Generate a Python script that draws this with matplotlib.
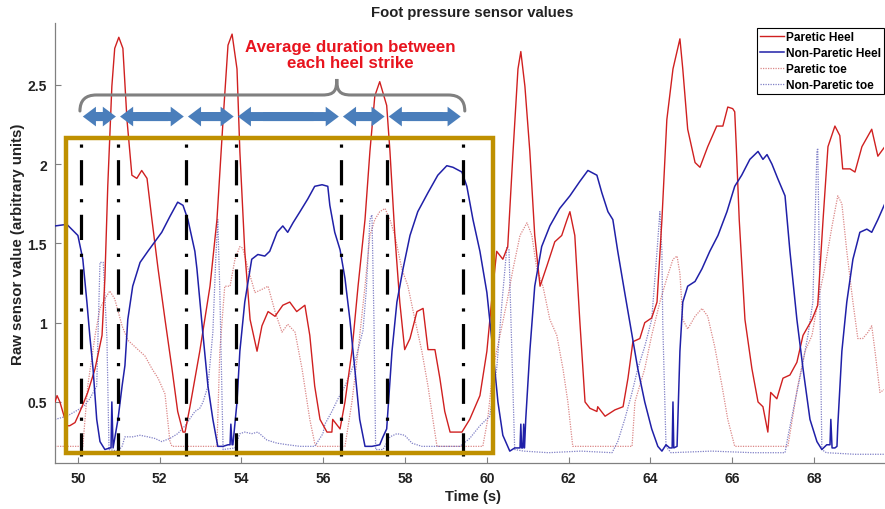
import matplotlib
matplotlib.use("Agg")
import matplotlib.pyplot as plt
from matplotlib.patches import Rectangle, FancyArrowPatch, PathPatch
from matplotlib.path import Path

plt.rcParams['font.family'] = ['Liberation Sans', 'DejaVu Sans']
plt.rcParams['font.weight'] = 'bold'

# ---------------- data ----------------
ph_t = [49.44, 49.49, 49.56, 49.73, 49.80, 49.93, 50.00, 50.10, 50.24, 50.42, 50.59, 50.66, 50.73, 50.83,
        50.90, 51.00, 51.10, 51.20, 51.32, 51.44, 51.56, 51.69, 51.81, 51.96, 52.13, 52.30, 52.44, 52.57,
        52.62, 52.74, 52.98, 53.23, 53.40, 53.55, 53.67, 53.77, 53.89, 53.96, 54.08, 54.21, 54.38, 54.50,
        54.65, 54.82, 55.01, 55.18, 55.35, 55.55, 55.67, 55.79, 55.92, 56.09, 56.21, 56.23, 56.41, 56.53,
        56.70, 56.85, 57.02, 57.14, 57.26, 57.38, 57.55, 57.63, 57.75, 57.87, 57.99, 58.12, 58.29, 58.44,
        58.56, 58.73, 58.85, 58.97, 59.10, 59.39, 59.58, 59.83, 60.00, 60.15, 60.24, 60.39, 60.51, 60.64,
        60.76, 60.83, 60.93, 61.05, 61.17, 61.30, 61.47, 61.66, 61.83, 61.96, 62.03, 62.15, 62.27, 62.40,
        62.52, 62.69, 62.71, 62.89, 63.13, 63.33, 63.45, 63.57, 63.74, 63.86, 64.03, 64.16, 64.28, 64.40,
        64.55, 64.72, 64.79, 64.91, 65.09, 65.21, 65.40, 65.62, 65.77, 65.89, 66.01, 66.06, 66.10, 66.17,
        66.31, 66.48, 66.63, 66.75, 66.87, 66.94, 67.09, 67.24, 67.41, 67.58, 67.73, 67.95, 68.09, 68.22,
        68.34, 68.51, 68.63, 68.70, 68.88, 69.00, 69.17, 69.41, 69.56, 69.73]
ph_v = [0.50, 0.54, 0.50, 0.35, 0.35, 0.37, 0.41, 0.47, 0.56, 0.71, 0.92, 1.28, 1.86, 2.49,
        2.73, 2.80, 2.73, 2.28, 1.93, 1.91, 1.96, 1.91, 1.65, 1.34, 1.02, 0.71, 0.44, 0.31,
        0.31, 0.47, 0.82, 1.23, 1.65, 2.28, 2.75, 2.82, 2.60, 2.08, 1.45, 1.02, 0.82, 0.98,
        1.07, 1.04, 1.11, 1.13, 1.07, 1.11, 0.92, 0.60, 0.39, 0.31, 0.31, 0.39, 0.33, 0.50,
        0.82, 1.23, 1.65, 2.08, 2.43, 2.52, 2.37, 2.08, 1.55, 1.13, 0.83, 0.90, 1.07, 1.09,
        0.83, 0.83, 0.65, 0.44, 0.31, 0.31, 0.39, 0.54, 0.82, 1.23, 1.45, 1.40, 1.48, 2.08,
        2.60, 2.71, 2.49, 2.08, 1.55, 1.23, 1.36, 1.51, 1.55, 1.65, 1.70, 1.55, 1.02, 0.50,
        0.46, 0.44, 0.47, 0.41, 0.45, 0.47, 0.65, 0.88, 0.90, 1.00, 1.03, 1.13, 1.65, 2.28,
        2.60, 2.79, 2.60, 2.22, 2.01, 1.98, 2.11, 2.24, 2.24, 2.36, 2.35, 2.33, 2.10, 1.65,
        1.02, 0.71, 0.50, 0.47, 0.31, 0.56, 0.52, 0.65, 0.67, 0.75, 0.92, 1.02, 1.11, 1.65,
        2.11, 2.24, 2.18, 1.97, 1.97, 1.95, 2.11, 2.22, 2.05, 2.11]

nh_t = [49.44, 49.73, 50.00, 50.12, 50.22, 50.29, 50.37, 50.46, 50.54, 50.66, 50.78, 50.81, 50.83, 50.86,
        50.98, 51.08, 51.15, 51.22, 51.34, 51.52, 51.71, 51.88, 52.05, 52.25, 52.44, 52.57, 52.69, 52.86,
        52.91, 53.06, 53.18, 53.30, 53.42, 53.55, 53.67, 53.72, 53.74, 53.77, 53.79, 53.89, 53.96, 54.08,
        54.25, 54.40, 54.57, 54.69, 54.87, 55.01, 55.13, 55.26, 55.43, 55.62, 55.79, 55.97, 56.11, 56.16,
        56.28, 56.41, 56.53, 56.65, 56.77, 56.89, 57.02, 57.19, 57.38, 57.46, 57.55, 57.68, 57.80, 57.95,
        58.12, 58.31, 58.56, 58.80, 59.02, 59.17, 59.39, 59.51, 59.66, 59.83, 60.00, 60.15, 60.27, 60.39,
        60.56, 60.68, 60.81, 60.83, 60.85, 60.88, 60.90, 60.92, 60.95, 61.05, 61.17, 61.34, 61.54, 61.78,
        62.03, 62.27, 62.47, 62.69, 62.81, 62.96, 63.08, 63.20, 63.37, 63.55, 63.69, 63.86, 64.03, 64.18,
        64.28, 64.38, 64.47, 64.53, 64.55, 64.57, 64.65, 64.72, 64.79, 64.91, 65.09, 65.26, 65.45, 65.65,
        65.87, 66.06, 66.23, 66.43, 66.63, 66.75, 66.85, 66.97, 67.11, 67.29, 67.41, 67.58, 67.73, 67.90,
        68.07, 68.19, 68.31, 68.39, 68.41, 68.44, 68.51, 68.56, 68.58, 68.68, 68.80, 68.95, 69.12, 69.29,
        69.41, 69.56, 69.73]
nh_v = [1.61, 1.62, 1.55, 1.40, 1.13, 0.92, 0.71, 0.39, 0.25, 0.20, 0.21, 0.21, 0.50, 0.21,
        0.39, 0.60, 0.73, 1.02, 1.23, 1.38, 1.45, 1.51, 1.57, 1.67, 1.76, 1.74, 1.65, 1.45,
        1.34, 0.92, 0.60, 0.39, 0.22, 0.22, 0.23, 0.23, 0.36, 0.23, 0.23, 0.50, 0.82, 1.13,
        1.40, 1.43, 1.42, 1.45, 1.57, 1.61, 1.57, 1.63, 1.70, 1.78, 1.86, 1.87, 1.86, 1.74,
        1.57, 1.46, 1.28, 1.02, 0.71, 0.39, 0.22, 0.22, 0.23, 0.28, 0.33, 0.82, 1.13, 1.34,
        1.55, 1.70, 1.82, 1.93, 1.99, 1.98, 1.95, 1.86, 1.65, 1.45, 1.19, 0.82, 0.50, 0.29,
        0.19, 0.21, 0.21, 0.36, 0.21, 0.21, 0.36, 0.21, 0.39, 0.82, 1.23, 1.48, 1.61, 1.72,
        1.80, 1.89, 1.96, 1.93, 1.82, 1.70, 1.65, 1.45, 1.19, 0.92, 0.71, 0.50, 0.33, 0.22,
        0.19, 0.23, 0.21, 0.21, 0.50, 0.21, 0.22, 0.82, 1.13, 1.23, 1.26, 1.34, 1.45, 1.55,
        1.70, 1.86, 1.93, 2.03, 2.08, 2.03, 2.06, 2.00, 1.91, 1.80, 1.45, 1.02, 0.71, 0.39,
        0.25, 0.20, 0.23, 0.23, 0.39, 0.21, 0.21, 0.22, 0.35, 0.82, 1.13, 1.40, 1.57, 1.59,
        1.57, 1.65, 1.75]

pt_t = [49.44, 50.12, 50.24, 50.42, 50.54, 50.66, 50.78, 50.90, 51.08, 51.22, 51.47, 51.64, 51.81, 51.96,
        52.13, 52.25, 52.30, 53.40, 53.47, 53.59, 53.72, 53.84, 53.96, 54.03, 54.16, 54.33, 54.50, 54.65,
        54.82, 54.99, 55.13, 55.31, 55.48, 55.67, 55.79, 55.85, 56.53, 56.70, 56.85, 57.02, 57.14, 57.26,
        57.38, 57.51, 57.63, 57.75, 57.92, 58.07, 58.24, 58.41, 58.56, 58.68, 58.78, 59.90, 60.02, 60.15,
        60.32, 60.49, 60.64, 60.81, 60.98, 61.10, 61.22, 61.37, 61.54, 61.71, 61.86, 61.98, 62.10, 63.55,
        63.62, 63.86, 64.03, 64.23, 64.40, 64.55, 64.65, 64.72, 64.79, 64.91, 65.09, 65.26, 65.40, 65.57,
        65.75, 65.89, 66.06, 67.36, 67.60, 67.78, 67.95, 68.09, 68.26, 68.44, 68.58, 68.68, 68.80, 68.95,
        69.07, 69.19, 69.32, 69.41, 69.49, 69.61, 69.73]
pt_v = [0.22, 0.22, 0.60, 0.92, 1.09, 1.15, 1.20, 1.15, 0.98, 0.89, 0.83, 0.79, 0.71, 0.65,
        0.55, 0.25, 0.22, 0.22, 0.82, 1.23, 1.23, 1.40, 1.48, 1.47, 1.34, 1.19, 1.21, 1.23,
        1.07, 0.94, 0.99, 0.94, 0.71, 0.39, 0.24, 0.22, 0.22, 0.50, 0.82, 1.23, 1.55, 1.65,
        1.70, 1.72, 1.65, 1.55, 1.34, 1.23, 1.02, 0.82, 0.60, 0.39, 0.22, 0.22, 0.39, 0.71,
        0.92, 1.13, 1.34, 1.55, 1.63, 1.55, 1.34, 1.23, 1.02, 0.92, 0.71, 0.50, 0.22, 0.22,
        0.50, 0.71, 0.92, 1.13, 1.28, 1.40, 1.42, 1.31, 1.02, 0.96, 1.04, 1.09, 1.04, 0.85,
        0.60, 0.39, 0.22, 0.22, 0.60, 0.82, 0.92, 1.13, 1.34, 1.61, 1.80, 1.75, 1.45, 1.13,
        0.90, 0.90, 0.94, 0.98, 0.82, 0.56, 0.58]

nt_t = [49.44, 49.73, 50.00, 50.17, 50.29, 50.46, 50.49, 50.54, 50.62, 50.71, 50.76, 50.98, 51.08, 51.15,
        51.34, 51.52, 51.71, 51.88, 52.05, 52.25, 52.44, 52.62, 52.86, 52.98, 53.06, 53.18, 53.30, 53.37,
        53.42, 53.47, 53.55, 53.84, 53.96, 54.08, 54.25, 54.40, 54.62, 54.87, 55.13, 55.43, 55.79, 55.99,
        56.04, 56.21, 56.36, 56.53, 56.77, 56.97, 57.05, 57.14, 57.19, 57.24, 57.28, 57.46, 57.63, 57.80,
        57.99, 58.17, 58.41, 58.80, 59.10, 59.34, 59.58, 59.83, 60.07, 60.24, 60.37, 60.49, 60.54, 60.61,
        60.68, 60.90, 61.50, 62.30, 63.06, 63.20, 63.37, 63.55, 63.69, 63.86, 64.03, 64.16, 64.23, 64.28,
        64.30, 64.38, 64.50, 65.50, 66.50, 67.29, 67.36, 67.53, 67.70, 67.85, 67.97, 68.07, 68.09, 68.14,
        68.19, 68.30, 69.00, 69.73]
nt_v = [0.39, 0.41, 0.45, 0.48, 0.52, 0.60, 0.90, 1.38, 1.38, 0.90, 0.20, 0.19, 0.22, 0.28,
        0.28, 0.29, 0.28, 0.27, 0.25, 0.27, 0.30, 0.35, 0.44, 0.46, 0.50, 0.60, 0.94, 1.40,
        1.65, 1.20, 0.20, 0.21, 0.30, 0.31, 0.30, 0.31, 0.26, 0.24, 0.23, 0.22, 0.22, 0.30,
        0.36, 0.44, 0.52, 0.60, 0.75, 0.95, 1.20, 1.65, 1.68, 1.00, 0.20, 0.20, 0.28, 0.30,
        0.29, 0.24, 0.22, 0.22, 0.22, 0.22, 0.27, 0.35, 0.41, 0.71, 1.13, 1.48, 1.46, 0.82,
        0.20, 0.19, 0.18, 0.19, 0.18, 0.25, 0.39, 0.56, 0.71, 0.85, 1.02, 1.45, 1.70, 1.45,
        1.00, 0.22, 0.18, 0.19, 0.18, 0.18, 0.28, 0.50, 0.71, 0.92, 1.13, 2.08, 2.10, 1.20,
        0.20, 0.18, 0.17, 0.17]

strikes = [50.07, 50.98, 52.64, 53.86, 56.43, 57.55, 59.41]
x_ticks = [50, 52, 54, 56, 58, 60, 62, 64, 66, 68]
y_ticks = [0.5, 1, 1.5, 2, 2.5]
y_tick_labels = ['0.5', '1', '1.5', '2', '2.5']

# ---------------- figure ----------------
fig = plt.figure(figsize=(8.85, 5.1), dpi=100)
ax = fig.add_axes([55 / 885, 46 / 510, 829 / 885, 440 / 510])

red = '#D02020'
blue = '#2020A8'
ax.plot(ph_t, ph_v, color=red, lw=1.0, label='Paretic Heel', zorder=3)
ax.plot(nh_t, nh_v, color=blue, lw=1.1, label='Non-Paretic Heel', zorder=3)
ax.plot(pt_t, pt_v, color='#D06060', lw=0.9, ls=(0, (1, 1)), alpha=0.75, label='Paretic toe', zorder=2)
ax.plot(nt_t, nt_v, color='#6060B8', lw=0.9, ls=(0, (1, 1)), alpha=0.8, label='Non-Paretic toe', zorder=2)

ax.set_xlim(49.44, 69.71)
ax.set_ylim(0.115, 2.89)
ax.set_xticks(x_ticks)
ax.set_xticklabels([str(v) for v in x_ticks])
ax.set_yticks(y_ticks)
ax.set_yticklabels(y_tick_labels)
for s in ['top', 'right']:
    ax.spines[s].set_visible(False)
for s in ['left', 'bottom']:
    ax.spines[s].set_color('#808080')
    ax.spines[s].set_linewidth(0.9)
ax.tick_params(direction='in', length=4, width=0.8, color='#808080', labelsize=10, pad=6)
for lab in ax.get_xticklabels() + ax.get_yticklabels():
    lab.set_fontweight('bold')
    lab.set_color('#222222')

# dash-dot vertical heel strike lines
for s in strikes:
    ax.plot([s, s], [2.13, 0.16], color='black', lw=2.3,
            ls=(0, (1.0, 3.9, 7.9, 4.3)), solid_capstyle='butt', zorder=5)

# gold rectangle
ax.add_patch(Rectangle((49.71, 0.18), 60.15 - 49.71, 2.165 - 0.18, fill=False,
                       edgecolor='#BF9000', lw=3.2, zorder=6, clip_on=False))

# blue double arrows (two overlapping single-headed arrows each)
arrow_col = '#4A7EBB'
for a, b in zip(strikes[:-1], strikes[1:]):
    x0, x1 = a + 0.05, b - 0.05
    mid = (x0 + x1) / 2
    ov = 0.25 * (x1 - x0)
    for start, end in ((mid + ov, x0), (mid - ov, x1)):
        ax.add_patch(FancyArrowPatch((start, 2.30), (end, 2.30),
                                     arrowstyle='simple,head_length=0.7,head_width=1.05,tail_width=0.48',
                                     mutation_scale=13.5, color=arrow_col, lw=0,
                                     shrinkA=0, shrinkB=0, zorder=7))

# grey brace
yb, yh, yt = 2.335, 2.436, 2.537
xl, xc, xr = 50.05, 56.33, 59.46
verts = [(xl, yb), (xl, yh), (xl + 0.4, yh),
         (xc - 0.35, yh),
         (xc - 0.05, yh), (xc, yh + 0.03), (xc, yt),
         (xc, yh + 0.03), (xc + 0.05, yh), (xc + 0.35, yh),
         (xr - 0.4, yh),
         (xr, yh), (xr, yb)]
codes = [Path.MOVETO, Path.CURVE3, Path.CURVE3,
         Path.LINETO,
         Path.CURVE4, Path.CURVE4, Path.CURVE4,
         Path.CURVE4, Path.CURVE4, Path.CURVE4,
         Path.LINETO,
         Path.CURVE3, Path.CURVE3]
ax.add_patch(PathPatch(Path(verts, codes), fill=False, edgecolor='#808080', lw=2.2,
                       capstyle='round', zorder=7))

# annotation text
ax.text(56.65, 2.69, 'Average duration between\neach heel strike', color='#E8141E',
        fontsize=12.2, fontweight='bold', ha='center', va='center', linespacing=1.1, zorder=8)

# legend
leg = ax.legend(loc='upper right', bbox_to_anchor=(1.0, 0.988), fontsize=8.6,
                frameon=True, fancybox=False, edgecolor='black', framealpha=1,
                borderpad=0.25, labelspacing=0.32, handlelength=2.0, handletextpad=0.2,
                borderaxespad=0.0)
leg.get_frame().set_linewidth(0.8)
for t in leg.get_texts():
    t.set_fontweight('bold')

fig.text(0.534, 1 - 13 / 510, 'Foot pressure sensor values', ha='center', va='center',
         fontsize=10.7, fontweight='bold', color='#222222')
fig.text(0.534, 1 - 497 / 510, 'Time (s)', ha='center', va='center',
         fontsize=10.5, fontweight='bold', color='#222222')
fig.text(18 / 885, 1 - 244 / 510, 'Raw sensor value (arbitrary units)', ha='center', va='center',
         rotation=90, fontsize=10.8, fontweight='bold', color='#222222')

fig.savefig('out.png', dpi=100)
